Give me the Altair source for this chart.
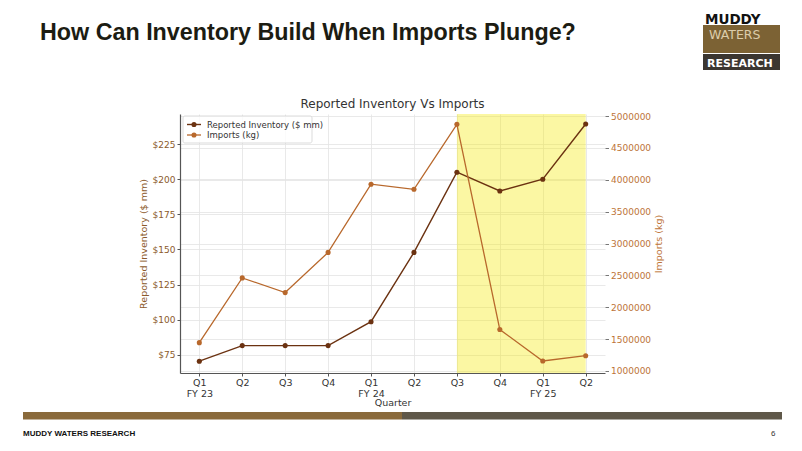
import json
import altair as alt
import pandas as pd

# ---------------- data ----------------
quarter_idx = list(range(10))
quarter_labels = ["Q1\nFY 23", "Q2", "Q3", "Q4", "Q1\nFY 24", "Q2", "Q3", "Q4", "Q1\nFY 25", "Q2"]
inventory_mm = [70.5, 81.6, 81.6, 81.6, 98.6, 147.9, 205.0, 191.6, 200.0, 239.3]
imports_kg = [1445000, 2460000, 2230000, 2860000, 3930000, 3850000, 4870000, 1650000, 1157000, 1240000]
highlight_start = [6]
highlight_end = [9]
left_ticks = [75, 100, 125, 150, 175, 200, 225]
right_ticks = [1000000, 1500000, 2000000, 2500000, 3000000, 3500000, 4000000, 4500000, 5000000]

df = pd.DataFrame({"idx": quarter_idx, "label": quarter_labels,
                   "inventory": inventory_mm, "imports": imports_kg})
band_df = pd.DataFrame({"idx": highlight_start, "end": highlight_end})
one = pd.DataFrame({"k": [0]})

# ---------------- layout (slide pixel coords) ----------------
PX0, PY0 = 180, 114          # plot area top-left on the slide
PW, PH = 425, 259            # plot area size
SVG_W, SVG_H = 786, 435      # keeps page inside the 802x451 window
def X(sx): return sx - PX0
def Y(sy): return sy - PY0

INV_COLOR = "#6b3211"
IMP_COLOR = "#b8682c"
LEFT_LBL = "#8b5a2b"
RIGHT_LBL = "#bd7438"
GRID = "#e3e3e3"
FONT = "DejaVu Sans"

label_arr = "[" + ",".join(json.dumps(l.split("\n")) for l in quarter_labels) + "]"
label_expr = label_arr.replace('"', "'") + "[datum.value]"

x_scale = alt.Scale(domain=[-0.45, 9.45], nice=False, zero=False)
x_axis = alt.Axis(values=quarter_idx, labelExpr=label_expr, grid=True,
                  gridColor=GRID, gridWidth=0.8, domainColor="#555555",
                  tickColor="#555555", tickSize=3, labelFont=FONT, labelFontSize=9.5,
                  labelColor="#333333", labelLineHeight=11, labelPadding=1,
                  titleFont=FONT, titleFontSize=9.5, titleFontWeight="normal",
                  titleColor="#333333", titlePadding=0)
x_enc = alt.X("idx:Q", scale=x_scale, title="Quarter", axis=x_axis)

band = alt.Chart(band_df).mark_rect(color="#f5e800", opacity=0.36).encode(
    x=x_enc,
    x2="end:Q",
    y=alt.value(0), y2=alt.value(PH),
)

inv = alt.Chart(df).mark_line(
    color=INV_COLOR, strokeWidth=1.4,
    point=alt.OverlayMarkDef(filled=True, size=26, color=INV_COLOR, opacity=1),
).encode(
    x=x_enc,
    y=alt.Y("inventory:Q",
            scale=alt.Scale(domain=[62.1, 246.4], nice=False, zero=False),
            axis=alt.Axis(values=left_ticks, labelExpr="'$' + datum.value",
                          title="Reported Inventory ($ mm)", grid=True, gridColor=GRID,
                          gridWidth=0.8, domainColor="#555555", domainWidth=1.2,
                          tickColor="#555555", tickSize=3,
                          labelFont=FONT, labelFontSize=9, labelColor=LEFT_LBL, labelPadding=2,
                          titleFont=FONT, titleFontSize=9.5, titleFontWeight="normal",
                          titleColor=LEFT_LBL, titlePadding=4)),
)

imp = alt.Chart(df).mark_line(
    color=IMP_COLOR, strokeWidth=1.3,
    point=alt.OverlayMarkDef(filled=True, size=26, color=IMP_COLOR, opacity=1),
).encode(
    x=x_enc,
    y=alt.Y("imports:Q",
            scale=alt.Scale(domain=[968500, 5031500], nice=False, zero=False),
            axis=alt.Axis(orient="right", values=right_ticks, format="d",
                          title="Imports (kg)", grid=True, gridColor=GRID, gridWidth=0.8,
                          domain=False, tickColor="#777777", tickSize=3.5,
                          labelFont=FONT, labelFontSize=9, labelColor=RIGHT_LBL, labelPadding=2,
                          titleFont=FONT, titleFontSize=9.5, titleFontWeight="normal",
                          titleColor=RIGHT_LBL, titleAngle=270, titleX=53, titleY=PH / 2,
                          titleAlign="center", titleBaseline="middle")),
)

deco = []

def text(t, sx, sy, size, color, weight="normal", font=FONT, align="left", baseline="alphabetic"):
    kw = dict(text=t, align=align, baseline=baseline, font=font, fontSize=size,
              fontWeight=weight, color=color)
    return alt.Chart(one).mark_text(**kw).encode(x=alt.value(X(sx)), y=alt.value(Y(sy)))

def rect(x1, y1, x2, y2, fill, stroke=None, sw=0, opacity=1.0, r=0):
    kw = dict(fill=fill, opacity=opacity, cornerRadius=r)
    if stroke:
        kw.update(stroke=stroke, strokeWidth=sw)
    return alt.Chart(one).mark_rect(**kw).encode(
        x=alt.value(X(x1)), x2=alt.value(X(x2)), y=alt.value(Y(y1)), y2=alt.value(Y(y2)))

def rule(x1, y1, x2, y2, color, w):
    return alt.Chart(one).mark_rule(color=color, strokeWidth=w).encode(
        x=alt.value(X(x1)), x2=alt.value(X(x2)), y=alt.value(Y(y1)), y2=alt.value(Y(y2)))

def dot(sx, sy, color):
    return alt.Chart(one).mark_point(filled=True, size=26, color=color, opacity=1).encode(
        x=alt.value(X(sx)), y=alt.value(Y(sy)))

# chart title
deco.append(text("Reported Inventory Vs Imports", 392.5, 108, 12, "#333333", align="center"))

# legend
deco.append(rect(183, 116, 312, 143, "white", stroke="#cccccc", sw=0.8, opacity=0.85, r=2))
deco.append(rule(187, 124.5, 201, 124.5, INV_COLOR, 1.4))
deco.append(dot(194, 124.5, INV_COLOR))
deco.append(text("Reported Inventory ($ mm)", 207, 127.5, 8.5, "#333333"))
deco.append(rule(187, 135, 201, 135, IMP_COLOR, 1.3))
deco.append(dot(194, 135, IMP_COLOR))
deco.append(text("Imports (kg)", 207, 138, 8.5, "#333333"))

# slide title
deco.append(text("How Can Inventory Build When Imports Plunge?", 40, 40, 23.3, "#1c1c12",
                 weight="bold", font="Liberation Sans Narrow, Arial Narrow, Liberation Sans"))

# logo
deco.append(rect(703, 25, 780, 53, "#7c6234"))
deco.append(rect(703, 54, 780, 70, "#3b3631"))
deco.append(text("MUDDY", 705, 23.5, 13.5, "#111111", weight="bold"))
deco.append(text("WATERS", 709, 38.5, 12.5, "#dccdaa"))
deco.append(text("RESEARCH", 707, 66.5, 11, "#ffffff", weight="bold"))

# footer bar and text
deco.append(rect(23, 412, 402, 419.5, "#8a6a3b"))
deco.append(rect(402, 412, 782, 419.5, "#5f5849"))
deco.append(text("MUDDY WATERS RESEARCH", 23, 436, 8, "#111111", weight="bold",
                 font="Liberation Sans"))
deco.append(text("6", 771, 436, 8, "#333333", font="Liberation Sans"))

chart = alt.layer(band, inv, imp, *deco).resolve_scale(y="independent").properties(
    width=PW, height=PH,
    autosize=alt.AutoSizeParams(type="none"),
    padding={"left": PX0 - 8, "top": PY0 - 8, "right": SVG_W - (PX0 - 8) - PW,
             "bottom": SVG_H - (PY0 - 8) - PH},
    background="white",
).configure_view(stroke=None)

chart.save("out.html", embed_options={"renderer": "svg", "actions": False})
